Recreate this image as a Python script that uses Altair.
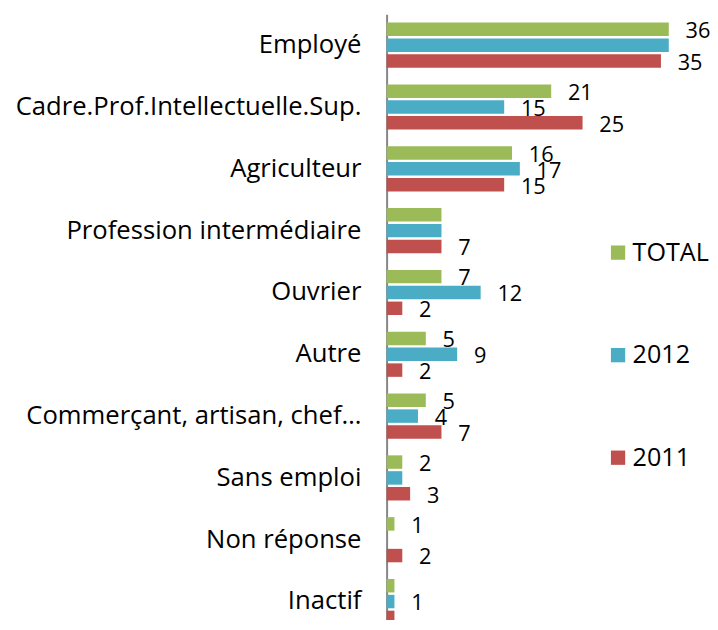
import altair as alt
import pandas as pd

categories = ["Employé", "Cadre.Prof.Intellectuelle.Sup.", "Agriculteur",
              "Profession intermédiaire", "Ouvrier", "Autre",
              "Commerçant, artisan, chef…", "Sans emploi", "Non réponse", "Inactif"]
series = ["TOTAL", "2012", "2011"]
colors = ["#9BBB59", "#4BACC6", "#C0504D"]

total = [36, 21, 16, 7, 7, 5, 5, 2, 1, 1]
y2012 = [36, 15, 17, 7, 12, 9, 4, 2, 0, 1]
y2011 = [35, 25, 15, 7, 2, 2, 7, 3, 2, 1]

# which data labels are visible in the original
show_total = [1, 1, 1, 0, 1, 1, 1, 1, 1, 0]
show_2012 = [0, 1, 1, 0, 1, 1, 1, 0, 0, 1]
show_2011 = [1, 1, 1, 1, 1, 1, 1, 1, 1, 0]

rows = []
for s, vals, shows in zip(series, [total, y2012, y2011], [show_total, show_2012, show_2011]):
    for c, v, sh in zip(categories, vals, shows):
        rows.append({"cat": c, "series": s, "value": v, "show": bool(sh)})
df = pd.DataFrame(rows)

FONT = "Open Sans"

base = alt.Chart(df).encode(
    y=alt.Y("cat:N", sort=categories,
            scale=alt.Scale(range=[0, 627], paddingInner=0.27, paddingOuter=0.135),
            axis=alt.Axis(title=None, ticks=False, labelPadding=26, labelFontSize=26,
                          labelFont=FONT, labelColor="black", domainColor="#868686",
                          domainWidth=2, labelLimit=0, grid=False)),
    yOffset=alt.YOffset("series:N", sort=series, scale=alt.Scale(paddingInner=0.15)),
)

bars = base.mark_bar().encode(
    x=alt.X("value:Q", scale=alt.Scale(domain=[0, 40]), axis=None),
    color=alt.Color("series:N", sort=series,
                    scale=alt.Scale(domain=series, range=colors),
                    legend=alt.Legend(title=None, orient="none", legendX=222, legendY=229,
                                      symbolType="square", symbolSize=210,
                                      symbolStrokeWidth=0, labelFontSize=25.5,
                                      labelFont=FONT, labelColor="black", labelLimit=0,
                                      rowPadding=77, labelOffset=2)),
)

text = base.transform_filter("datum.show").mark_text(
    align="left", baseline="middle", dx=17, dy=2, font=FONT, fontSize=22, color="black"
).encode(
    x=alt.X("value:Q", scale=alt.Scale(domain=[0, 40]), axis=None),
    text="value:Q",
)

chart = alt.layer(bars, text).properties(
    width=318, height=610,
    padding={"left": 384, "top": 2, "right": 10, "bottom": 0},
    autosize=alt.AutoSizeParams(type="none"),
    background="white",
).configure_view(stroke=None)

chart.save("out.html", embed_options={"renderer": "svg", "actions": False})
